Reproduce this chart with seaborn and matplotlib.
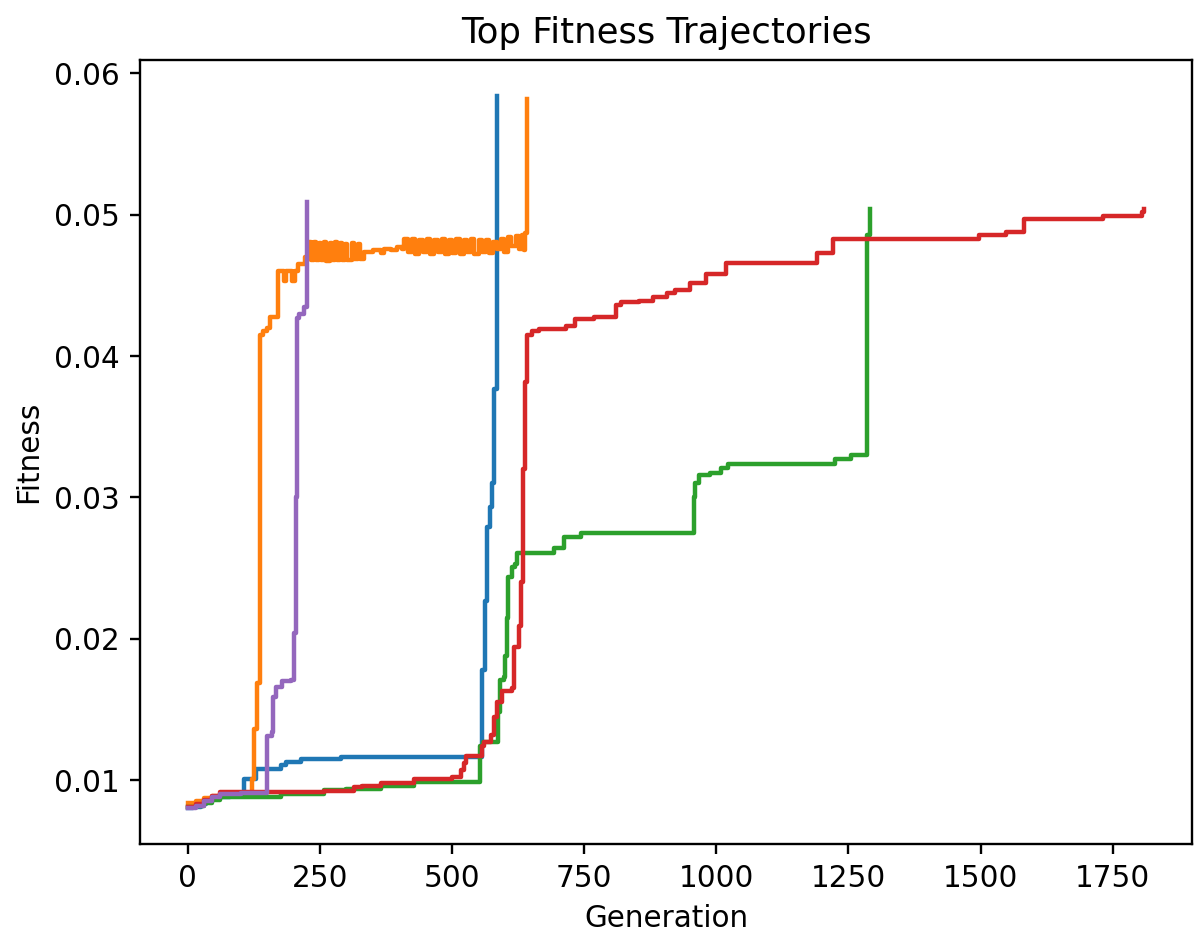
import matplotlib
matplotlib.use("Agg")
import matplotlib.pyplot as plt
import seaborn as sns

# step points: value holds from each generation until the next one
blue_gen = [0, 10, 25, 35, 45, 60, 80, 106, 128, 176, 185, 214, 289, 330,
            557, 563, 566, 571, 575, 580, 585]
blue_fit = [0.0080, 0.0081, 0.0083, 0.0085, 0.0087, 0.0088, 0.0089, 0.0101, 0.0108,
            0.0111, 0.0113, 0.0115, 0.0116, 0.01165,
            0.0178, 0.0227, 0.0279, 0.0293, 0.0310, 0.0377, 0.0584]

orange_gen = [0, 15, 30, 45, 60, 90, 122, 126, 131, 136, 142, 150, 156, 171,
              182, 186, 197, 202, 209, 222,
              229, 233, 239, 243, 248, 252, 258, 262, 268, 272, 278, 282, 288, 292,
              298, 302, 310, 314, 322, 326,
              334, 350, 365, 372, 385, 395, 405,
              409, 416, 424, 430, 438, 445, 452, 458, 466, 473, 480, 486, 494, 500,
              508, 514, 522, 528, 536, 542, 550, 556, 564, 570, 578, 584, 592, 598,
              606, 612, 620, 626, 632, 636, 638, 642]
orange_fit = [0.0084, 0.0085, 0.0087, 0.0089, 0.0090, 0.0091, 0.0101, 0.0136, 0.0169,
              0.0415, 0.0418, 0.0420, 0.0428, 0.0460,
              0.0453, 0.0460, 0.0453, 0.0460, 0.0465, 0.0470,
              0.0481, 0.0468, 0.0481, 0.0468, 0.0480, 0.0468, 0.0481, 0.0467, 0.0480,
              0.0468, 0.0481, 0.0468, 0.0480, 0.0468, 0.0479, 0.0468, 0.0480, 0.0469,
              0.0479, 0.0469,
              0.0474, 0.0475, 0.0473, 0.0476, 0.0475, 0.0477, 0.0476,
              0.0483, 0.0474, 0.0483, 0.0472, 0.0482, 0.0474, 0.0483, 0.0472, 0.0482,
              0.0474, 0.0483, 0.0472, 0.0482, 0.0473, 0.0483, 0.0472, 0.0482, 0.0474,
              0.0483, 0.0472, 0.0482, 0.0474, 0.0482, 0.0473, 0.0481, 0.0476, 0.0483,
              0.0474, 0.0484, 0.0478, 0.0485, 0.0476, 0.0486, 0.0475, 0.0487, 0.0582]

green_gen = [0, 15, 30, 45, 60, 176, 258, 300, 365, 428, 553, 559, 586, 590, 598,
             601, 603, 605, 613, 619, 623, 693, 712, 743,
             957, 960, 967, 988, 1008, 1022, 1224, 1255, 1285, 1290]
green_fit = [0.0081, 0.0082, 0.0084, 0.0086, 0.0088, 0.0090, 0.0093, 0.0094, 0.0096,
             0.00985, 0.0124, 0.0127, 0.0148, 0.0171, 0.0173, 0.0188, 0.0215, 0.0244,
             0.0251, 0.0253, 0.0261, 0.0264, 0.0272, 0.0275,
             0.0300, 0.0310, 0.0316, 0.0317, 0.0321, 0.0324, 0.0327, 0.0330, 0.0486,
             0.0504]

red_gen = [0, 15, 30, 45, 60, 257, 315, 330, 365, 428, 500, 516, 522, 526, 556,
           560, 573, 580, 585, 595, 613, 618, 627, 631, 634, 638, 641, 652, 665,
           715, 733, 768, 810, 819, 853, 881, 907, 922, 950, 981, 1019, 1190, 1221,
           1497, 1548, 1583, 1731, 1806, 1810]
red_fit = [0.0081, 0.0083, 0.0086, 0.0089, 0.00915, 0.00925, 0.0095, 0.0096, 0.0098,
           0.0101, 0.0102, 0.0107, 0.0112, 0.0117, 0.0124, 0.0127, 0.0132, 0.0145,
           0.0155, 0.0163, 0.0165, 0.0194, 0.0209, 0.0240, 0.0320, 0.0382, 0.0415,
           0.0418, 0.0419, 0.0421, 0.0426, 0.0428, 0.0436, 0.0438, 0.0439, 0.0442,
           0.0445, 0.0447, 0.0452, 0.0458, 0.0466, 0.0473, 0.0483, 0.0486, 0.0488,
           0.0497, 0.0499, 0.0502, 0.0504]

purple_gen = [0, 15, 30, 45, 60, 100, 149, 151, 160, 162, 166, 178, 195, 201,
              204, 207, 210, 219, 225]
purple_fit = [0.0080, 0.0082, 0.0085, 0.0088, 0.0090, 0.0091, 0.0131, 0.0131,
              0.0134, 0.0159, 0.0166, 0.0170, 0.0171, 0.0204, 0.0300, 0.0427,
              0.0430, 0.0435, 0.0509]

series = [(blue_gen, blue_fit), (orange_gen, orange_fit), (green_gen, green_fit),
          (red_gen, red_fit), (purple_gen, purple_fit)]
colors = sns.color_palette("tab10", 5)

fig = plt.figure(figsize=(5.975, 4.68), dpi=200)
ax = fig.add_axes([0.1172, 0.0983, 0.8805, 0.8371])

for (g, f), c in zip(series, colors):
    sns.lineplot(x=g, y=f, ax=ax, color=c, linewidth=1.6, drawstyle="steps-post",
                 estimator=None, sort=False)

ax.set_title("Top Fitness Trajectories", fontsize=12.8, pad=6.4)
ax.set_xlabel("Generation", fontsize=10.65, labelpad=4)
ax.set_ylabel("Fitness", fontsize=10.65, labelpad=4)
ax.tick_params(labelsize=10.65, length=3.7, width=0.85)
for s in ax.spines.values():
    s.set_linewidth(0.85)

fig.savefig("out.png", dpi=200)
